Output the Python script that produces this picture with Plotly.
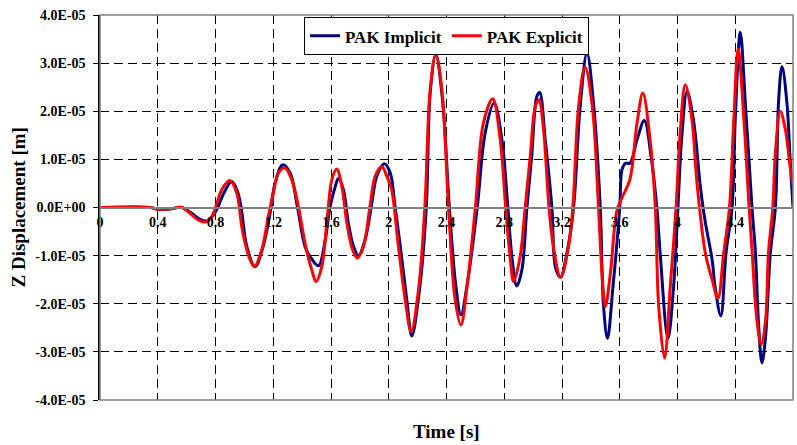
import plotly.graph_objects as go

# ---- data (displacements in units of 1e-5 m) ----
SCALE = 1e-5

t_imp = [0, 0.35, 0.39, 0.485, 0.566, 0.64, 0.69, 0.74, 0.78, 0.815,
         0.85, 0.912, 0.95, 0.975, 1.017, 1.074, 1.13, 1.178, 1.213, 1.266,
         1.317, 1.367, 1.42, 1.455, 1.513, 1.56, 1.594, 1.63, 1.652, 1.686,
         1.72, 1.756, 1.79, 1.836, 1.883, 1.917, 1.97, 2.01, 2.044, 2.08,
         2.125, 2.16, 2.213, 2.26, 2.287, 2.326, 2.372, 2.42, 2.465, 2.50,
         2.548, 2.613, 2.668, 2.73, 2.784, 2.825, 2.853, 2.887, 2.922, 2.957,
         2.99, 3.026, 3.045, 3.084, 3.13, 3.156, 3.19, 3.234, 3.28, 3.326,
         3.373, 3.42, 3.465, 3.488, 3.515, 3.553, 3.60, 3.615, 3.64, 3.67,
         3.72, 3.77, 3.82, 3.857, 3.88, 3.934, 3.973, 4.003, 4.03, 4.066,
         4.11, 4.158, 4.19, 4.24, 4.26, 4.30, 4.336, 4.378, 4.40, 4.435,
         4.47, 4.516, 4.54, 4.56, 4.585, 4.61, 4.643, 4.678, 4.70, 4.724,
         4.758, 4.78, 4.8]
z_imp = [0, 0, -0.03, -0.03, 0.0, -0.13, -0.24, -0.28, -0.18, 0.0,
         0.25, 0.54, 0.35, 0.05, -0.81, -1.23, -0.81, -0.12, 0.51, 0.89,
         0.72, 0.02, -0.81, -1.02, -1.21, -0.67, 0.02, 0.44, 0.61, 0.37,
         -0.32, -0.81, -1.0, -0.67, 0.09, 0.65, 0.91, 0.72, 0.02, -0.81,
         -1.92, -2.67, -1.71, 0.0, 2.38, 3.18, 2.24, 0.0, -1.64, -2.23,
         -1.5, 0.0, 1.55, 2.17, 1.41, 0.0, -1.02, -1.63, -1.3, 0.0,
         1.06, 2.31, 2.39, 1.41, 0.0, -1.26, -1.45, -0.95, 0.0, 2.1,
         3.21, 2.1, 0.0, -2.06, -2.72, -1.65, 0.0, 0.78, 0.92, 0.92,
         1.41, 1.81, 0.99, 0.0, -0.95, -2.72, -1.64, 0.0, 1.48, 2.41,
         1.83, 0.44, -0.26, -1.09, -1.64, -2.25, -0.95, 0.0, 1.83, 3.64,
         2.17, 0.0, -0.95, -2.34, -3.23, -2.68, -0.95, 0.0, 2.2, 2.93,
         2.17, 1.0, 0.0]

t_exp = [0, 0.35, 0.39, 0.485, 0.566, 0.635, 0.68, 0.73, 0.774, 0.81,
         0.843, 0.90, 0.947, 0.982, 1.005, 1.04, 1.07, 1.12, 1.166, 1.20,
         1.236, 1.28, 1.328, 1.374, 1.42, 1.467, 1.497, 1.536, 1.575, 1.606,
         1.64, 1.675, 1.71, 1.75, 1.783, 1.825, 1.87, 1.906, 1.952, 1.987,
         2.02, 2.067, 2.114, 2.155, 2.206, 2.25, 2.287, 2.326, 2.368, 2.414,
         2.46, 2.50, 2.54, 2.60, 2.656, 2.72, 2.772, 2.81, 2.84, 2.865,
         2.91, 2.945, 2.98, 3.015, 3.04, 3.07, 3.11, 3.14, 3.19, 3.245,
         3.275, 3.315, 3.36, 3.41, 3.453, 3.477, 3.50, 3.535, 3.58, 3.615,
         3.67, 3.72, 3.76, 3.81, 3.846, 3.87, 3.91, 3.95, 3.99, 4.017,
         4.054, 4.10, 4.135, 4.193, 4.24, 4.28, 4.32, 4.36, 4.39, 4.42,
         4.46, 4.495, 4.516, 4.55, 4.58, 4.61, 4.63, 4.66, 4.678, 4.712,
         4.747, 4.78, 4.8]
z_exp = [0, 0, -0.03, -0.03, 0.0, -0.15, -0.26, -0.30, -0.19, 0.09,
         0.37, 0.56, 0.30, -0.40, -0.74, -1.09, -1.23, -0.88, -0.19, 0.30,
         0.72, 0.82, 0.58, 0.02, -0.74, -1.30, -1.54, -1.23, -0.19, 0.58,
         0.80, 0.44, -0.32, -0.88, -1.05, -0.81, 0.02, 0.65, 0.85, 0.65,
         0.37, -0.81, -1.92, -2.58, -1.71, 0.0, 2.45, 3.18, 2.45, 0.0,
         -1.92, -2.44, -1.71, 0.0, 1.76, 2.26, 1.41, 0.0, -1.02, -1.54,
         -1.02, 0.0, 1.06, 2.1, 2.24, 1.69, 0.0, -0.81, -1.45, -0.81,
         0.0, 2.1, 2.92, 2.1, 0.0, -1.37, -2.06, -1.37, -0.07, 0.2,
         0.58, 1.76, 2.38, 1.41, 0.02, -2.06, -3.13, -1.64, 0.0, 1.48,
         2.55, 1.83, 0.51, -0.95, -1.5, -1.89, -0.95, 0.0, 1.83, 3.30,
         1.83, 0.05, -0.88, -2.34, -2.84, -2.34, -0.95, 0.0, 1.13, 2.0,
         1.62, 0.85, 0.47]

x_tickvals = [0, 0.4, 0.8, 1.2, 1.6, 2.0, 2.4, 2.8, 3.2, 3.6, 4.0, 4.4, 4.8]
x_ticktext = ["0", "0.4", "0.8", "1.2", "1.6", "2", "2.4", "2.8", "3.2", "3.6", "4", "4.4", "4.8"]
y_tickvals = [-4e-5, -3e-5, -2e-5, -1e-5, 0, 1e-5, 2e-5, 3e-5, 4e-5]
y_ticktext = ["-4.0E-05", "-3.0E-05", "-2.0E-05", "-1.0E-05", "0.0E+00",
              "1.0E-05", "2.0E-05", "3.0E-05", "4.0E-05"]

FONT = "Liberation Serif"

fig = go.Figure()
fig.add_trace(go.Scatter(
    x=t_imp, y=[v * SCALE for v in z_imp], mode="lines", name="PAK Implicit",
    line=dict(color="#000080", width=3, shape="spline", smoothing=1.0)))
fig.add_trace(go.Scatter(
    x=t_exp, y=[v * SCALE for v in z_exp], mode="lines", name="PAK Explicit",
    line=dict(color="#FF0000", width=3, shape="spline", smoothing=1.0)))

fig.update_layout(
    width=797, height=445,
    margin=dict(l=100, r=4, t=15, b=45),
    paper_bgcolor="white", plot_bgcolor="white",
    showlegend=True,
    legend=dict(orientation="h", x=0.5, xanchor="center", y=0.994, yanchor="top",
                bgcolor="white", bordercolor="black", borderwidth=1,
                font=dict(family=FONT, size=17, color="black", weight="bold"),
                itemwidth=30, tracegroupgap=0),
    xaxis=dict(range=[0, 4.8], anchor="free", position=0.5,
               tickvals=x_tickvals, ticktext=x_ticktext,
               showline=True, linecolor="#808080", linewidth=2,
               ticks="outside", ticklen=2, tickcolor="rgba(0,0,0,0)",
               showgrid=True, gridcolor="black", gridwidth=1, griddash="9px,5px",
               zeroline=False,
               tickfont=dict(family=FONT, size=14, color="black", weight="bold")),
    yaxis=dict(range=[-4e-5, 4e-5], tickvals=y_tickvals, ticktext=y_ticktext,
               showline=True, linecolor="black", linewidth=1.5,
               ticks="outside", ticklen=5, tickcolor="black", tickwidth=1,
               ticklabelstandoff=5,
               showgrid=True, gridcolor="black", gridwidth=1, griddash="9px,5px",
               zeroline=False,
               tickfont=dict(family=FONT, size=14, color="black", weight="bold")),
    shapes=[dict(type="rect", xref="paper", yref="paper", x0=0, x1=1, y0=0, y1=1,
                 line=dict(color="#808080", width=1.5), layer="above")],
    annotations=[
        dict(text="Time [s]", xref="paper", yref="paper", x=0.5, y=0,
             yanchor="middle", xanchor="center", yshift=-31, showarrow=False,
             font=dict(family=FONT, size=19, color="black", weight="bold")),
        dict(text="Z Displacement [m]", xref="paper", yref="paper", x=0, y=0.5,
             xanchor="center", yanchor="middle", xshift=-82, textangle=-90,
             showarrow=False,
             font=dict(family=FONT, size=19, color="black", weight="bold")),
    ],
)

fig.write_html("out.html")
